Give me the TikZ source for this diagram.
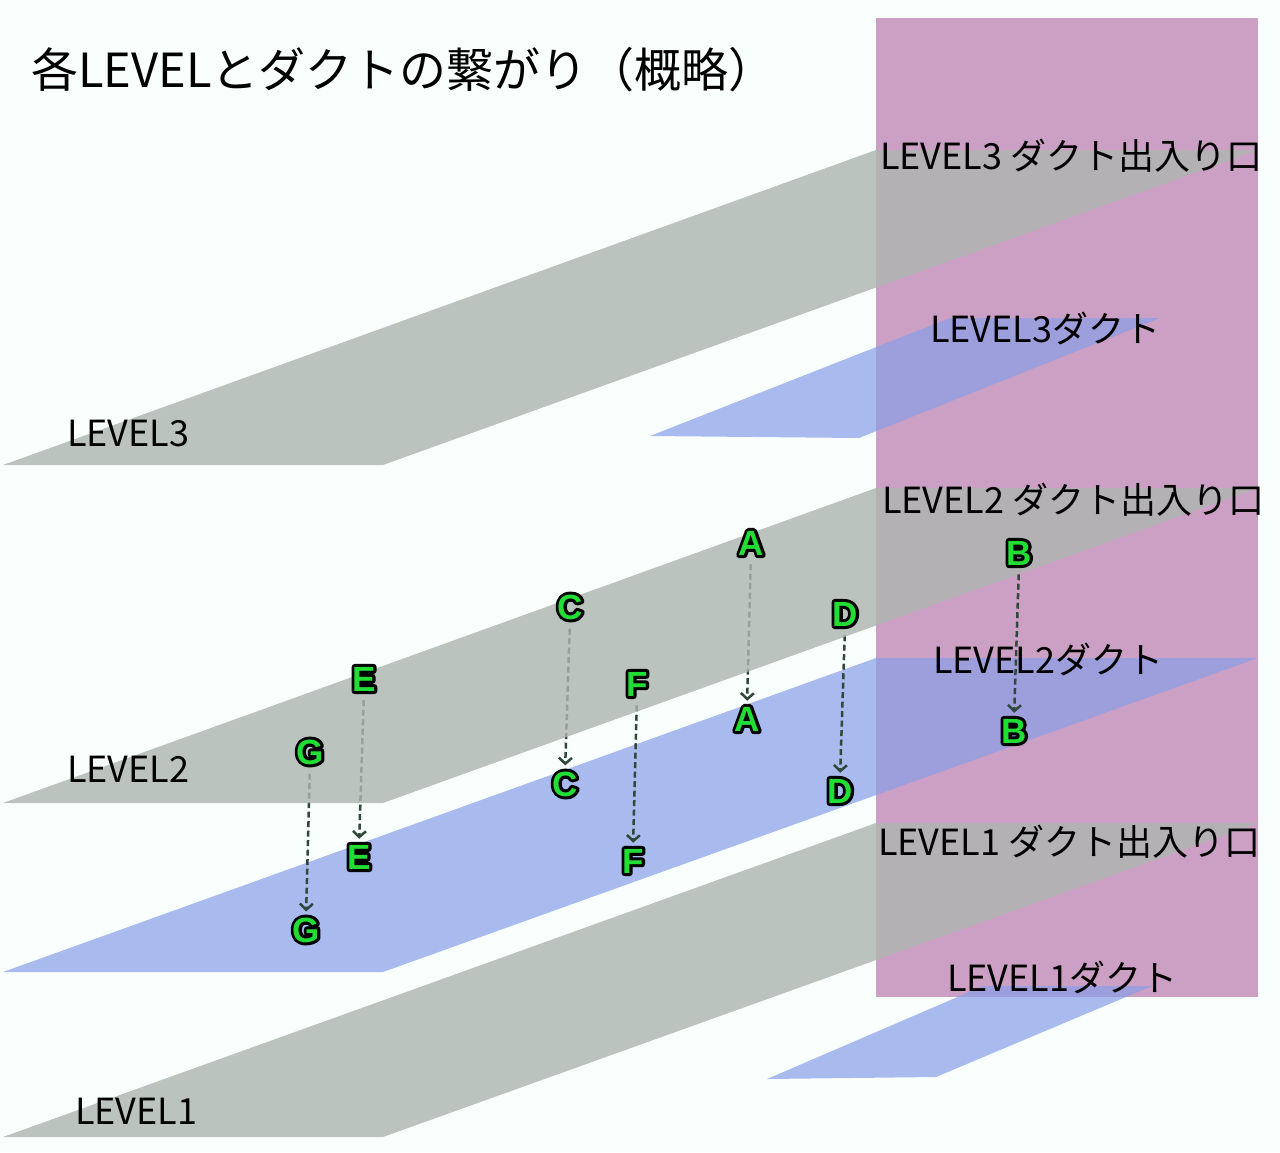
\documentclass[tikz,border=0pt]{standalone}
\usepackage{fontspec}
\setmainfont{Noto Sans CJK JP}
\newfontfamily\letterfont{Liberation Sans}[BoldFont={Liberation Sans Bold}]
\usetikzlibrary{arrows.meta}
\definecolor{bgc}{RGB}{248,255,253}
\definecolor{pinkc}{RGB}{204,160,196}
\definecolor{greyc}{RGB}{174,182,177}
\definecolor{bluec}{RGB}{138,159,232}
\definecolor{arrc}{RGB}{47,72,58}
\definecolor{grnc}{RGB}{34,222,52}
\newcommand\outlet[1]{%
  \rlap{\textcolor{black}{\special{pdf:literal direct 1 Tr 6 w 1 j}#1\special{pdf:literal direct 0 Tr}}}%
  \textcolor{grnc}{#1}}
\pgfdeclarelayer{baselayer}
\pgfdeclarelayer{arrowlayer}
\pgfdeclarelayer{greylayer}
\pgfsetlayers{baselayer,arrowlayer,greylayer,main}
\tikzset{
  greyplane/.style={fill=greyc, fill opacity=0.81, draw=none},
  blueplane/.style={fill=bluec, fill opacity=0.71, draw=none},
  lbl/.style={inner sep=0pt, anchor=base west, font=\fontsize{36}{40}\selectfont, text=black},
  letternode/.style={inner sep=0pt, font=\letterfont\bfseries\fontsize{35}{37}\selectfont},
  conn/.style={draw=arrc, line width=2.5pt, dash pattern=on 6pt off 3.5pt,
    -{Straight Barb[length=6pt,width=13pt,line width=2.5pt]}, shorten <=9pt, shorten >=6pt}
}
\begin{document}
\begin{tikzpicture}[x=1pt,y=-1pt]
\useasboundingbox (0,0) rectangle (1280,1152);
\begin{pgfonlayer}{baselayer}
\fill[bgc] (0,0) rectangle (1280,1152);
% shaft
\fill[pinkc] (876,18) rectangle (1258,997);
% duct planes
\path[blueplane] (650,436) -- (859,438) -- (1160,318) -- (950,318) -- cycle;
\path[blueplane] (3,972) -- (383,972) -- (1258,658) -- (876,658) -- cycle;
\path[blueplane] (767,1079) -- (936,1077) -- (1152,986) -- (983,986) -- cycle;
\end{pgfonlayer}
% floor planes (over connectors)
\begin{pgfonlayer}{greylayer}
\path[greyplane] (3,465) -- (383,465) -- (1258,150) -- (876,150) -- cycle;
\path[greyplane] (3,803) -- (383,803) -- (1258,488) -- (876,488) -- cycle;
\path[greyplane] (3,1137) -- (383,1137) -- (1258,823) -- (876,823) -- cycle;
\end{pgfonlayer}
% letter nodes
\node[letternode] (at) at (751,543) {\outlet{A}};
\node[letternode] (ab) at (747,719) {\outlet{A}};
\node[letternode] (bt) at (1019,553) {\outlet{B}};
\node[letternode] (bb) at (1014,731) {\outlet{B}};
\node[letternode] (ct) at (570,607) {\outlet{C}};
\node[letternode] (cb) at (565,784) {\outlet{C}};
\node[letternode] (dt) at (845,614) {\outlet{D}};
\node[letternode] (db) at (840,791) {\outlet{D}};
\node[letternode] (et) at (364,679) {\outlet{E}};
\node[letternode] (eb) at (359,857) {\outlet{E}};
\node[letternode] (ft) at (637,684) {\outlet{F}};
\node[letternode] (fb) at (633,861) {\outlet{F}};
\node[letternode] (gt) at (310,752) {\outlet{G}};
\node[letternode] (gb) at (306,930) {\outlet{G}};
% connectors (under the floor planes)
\begin{pgfonlayer}{arrowlayer}
\draw[conn] (at.south) -- (ab.north);
\draw[conn] (bt.south) -- (bb.north);
\draw[conn] (ct.south) -- (cb.north);
\draw[conn] (dt.south) -- (db.north);
\draw[conn] (et.south) -- (eb.north);
\draw[conn] (ft.south) -- (fb.north);
\draw[conn] (gt.south) -- (gb.north);
\end{pgfonlayer}
% labels
\node[inner sep=0pt, anchor=base west, font=\fontsize{47}{50}\selectfont] (title) at (31,87) {各LEVELとダクトの繋がり（概略）};
\node[lbl] (l3e) at (880,169) {LEVEL3 ダクト出入り口};
\node[lbl] (l3d) at (930,342) {LEVEL3ダクト};
\node[lbl] (l2e) at (882,513) {LEVEL2 ダクト出入り口};
\node[lbl] (l2d) at (933,673) {LEVEL2ダクト};
\node[lbl] (l1e) at (878,855) {LEVEL1 ダクト出入り口};
\node[lbl] (l1d) at (947,991) {LEVEL1ダクト};
\node[lbl] (l3) at (67,446) {LEVEL3};
\node[lbl] (l2) at (67,782) {LEVEL2};
\node[lbl] (l1) at (75,1124) {LEVEL1};
\end{tikzpicture}
\end{document}
